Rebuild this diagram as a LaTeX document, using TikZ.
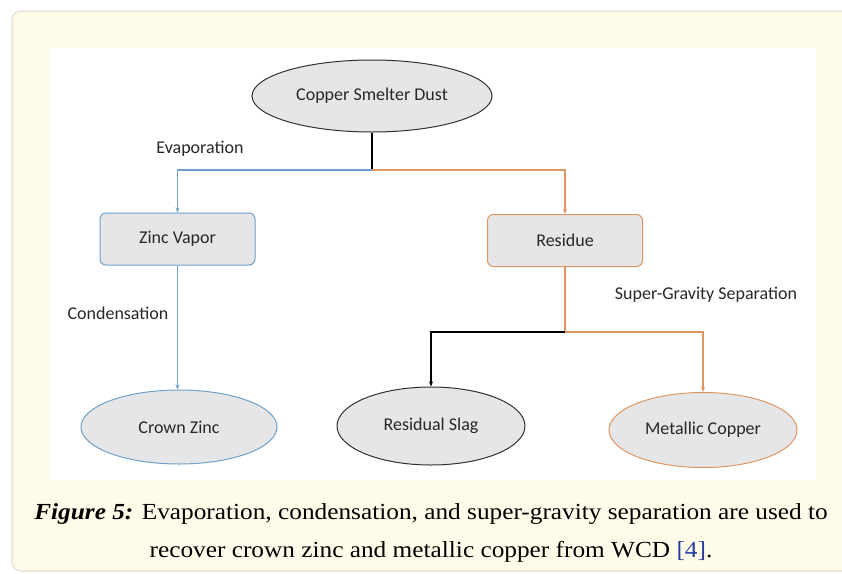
\documentclass[tikz,border=0pt]{standalone}
\usepackage{fontspec}
\setmainfont{Liberation Serif}
\newfontfamily\diag{Carlito}
\usetikzlibrary{shapes.geometric,arrows.meta}
\definecolor{panelfill}{RGB}{255,251,233}
\definecolor{paneledge}{RGB}{232,229,218}
\definecolor{lblue}{RGB}{112,160,200}
\definecolor{lorange}{RGB}{222,150,98}
\definecolor{boxfill}{RGB}{230,230,232}
\definecolor{darkedge}{RGB}{50,50,50}
\definecolor{txt}{RGB}{40,40,40}
\definecolor{refblue}{RGB}{40,60,160}
\tikzset{
  x=1pt,y=-1pt,
  ell/.style={ellipse,draw,fill=boxfill,inner sep=0pt,line width=1pt,font=\diag\fontsize{18}{20}\selectfont,text=txt},
  rbox/.style={rectangle,rounded corners=6pt,draw,fill=boxfill,inner sep=0pt,minimum width=155pt,minimum height=52pt,line width=1pt,font=\diag\fontsize{18}{20}\selectfont,text=txt},
  lbl/.style={font=\diag\fontsize{18}{20}\selectfont,text=txt,inner sep=0pt},
  capt/.style={inner sep=0pt,font=\fontsize{23}{26}\selectfont,text=black},
  conn/.style={line width=1.1pt},
  arr/.style={line width=1.1pt,-{Stealth[length=5pt,width=4pt]}},
}
\begin{document}
\begin{tikzpicture}
\useasboundingbox (0,0) rectangle (842,573);
\clip (0,0) rectangle (842,573);
% panel
\draw[fill=panelfill,draw=paneledge,line width=1.5pt,rounded corners=9pt] (12,11) rectangle (870,571);
\fill[white] (49,48) rectangle (816,480);
% nodes
\node[ell,draw=darkedge,minimum width=240pt,minimum height=72pt] (dust) at (372,96) {Copper Smelter Dust};
\node[rbox,draw=lblue] (zinc) at (177.5,239) {Zinc Vapor};
\node[rbox,draw=lorange] (res) at (565,240.5) {Residue};
\node[ell,draw=lblue,minimum width=196pt,minimum height=74pt] (crown) at (179,427) {Crown Zinc};
\node[ell,draw=darkedge,minimum width=188pt,minimum height=78pt] (slag) at (431,426) {Residual Slag};
\node[ell,draw=lorange,minimum width=188pt,minimum height=75pt] (cu) at (703,430) {Metallic Copper};
% labels
\node[lbl] (evap) at (200,149) {Evaporation};
\node[lbl] (cond) at (118,313) {Condensation};
\node[lbl] (sgs) at (706,295) {Super-Gravity Separation};
% connectors
\coordinate (s1) at (372,170);
\coordinate (s2) at (565,332);
\draw[conn,black] (dust.south) -- (s1);
\draw[arr,lblue] (s1) -| (zinc.north);
\draw[arr,lorange] (s1) -| (res.north);
\draw[arr,lblue] (zinc.south) -- (zinc.south |- crown.north);
\draw[conn,lorange] (res.south) -- (s2);
\draw[arr,black] (s2) -| (slag.north);
\draw[arr,lorange] (s2) -| (cu.north);
% caption
\node[capt] (cap1) at (431,514) {\scalebox{1.1}[1]{\textbf{\textit{Figure 5:}} Evaporation, condensation, and super-gravity separation are used to}};
\node[capt] (cap2) at (431,552) {\scalebox{1.1}[1]{recover crown zinc and metallic copper from WCD \textcolor{refblue}{[4]}.}};
\end{tikzpicture}
\end{document}
